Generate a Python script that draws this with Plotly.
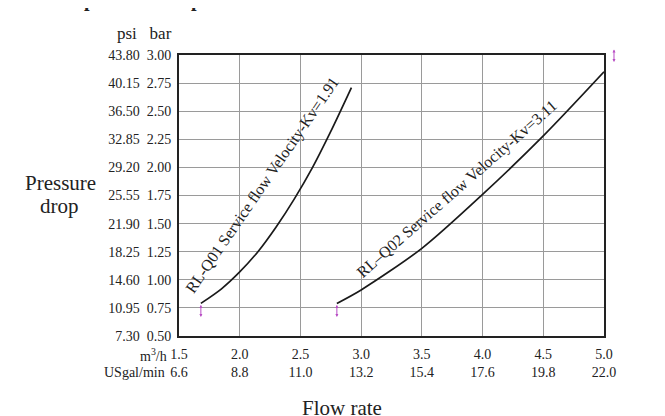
import plotly.graph_objects as go

# flow rate ticks (m3/h) and the matching US gal/min labels
flow_m3h = [1.5, 2.0, 2.5, 3.0, 3.5, 4.0, 4.5, 5.0]
flow_usgal = ["6.6", "8.8", "11.0", "13.2", "15.4", "17.6", "19.8", "22.0"]

# pressure ticks (bar) and the matching psi labels
press_bar = [0.50, 0.75, 1.00, 1.25, 1.50, 1.75, 2.00, 2.25, 2.50, 2.75, 3.00]
press_psi = ["7.30", "10.95", "14.60", "18.25", "21.90", "25.55",
             "29.20", "32.85", "36.50", "40.15", "43.80"]

# RL-Q01 curve
q01_flow = [1.68, 1.85, 2.00, 2.15, 2.30, 2.45, 2.60, 2.75, 2.92]
q01_bar = [0.79, 0.92, 1.07, 1.25, 1.47, 1.72, 2.00, 2.32, 2.71]

# RL-Q02 curve
q02_flow = [2.80, 3.00, 3.50, 4.00, 4.50, 5.00]
q02_bar = [0.79, 0.91, 1.28, 1.76, 2.28, 2.85]

SERIF = "Liberation Serif, Times New Roman, serif"
TXT = "#222222"
PINK = "#b84dc4"

fig = go.Figure()

for xs, ys in [(q01_flow, q01_bar), (q02_flow, q02_bar)]:
    fig.add_trace(go.Scatter(
        x=xs, y=ys, mode="lines",
        line=dict(color="#1a1a1a", width=1.7, shape="spline", smoothing=0.8),
        hoverinfo="skip", showlegend=False,
    ))

annotations = [
    # curve labels
    dict(x=2.19, y=1.84, text="RL-Q01 Service flow Velocity-Kv=1.91",
         textangle=-55.5, showarrow=False, font=dict(size=16, color=TXT)),
    dict(x=3.79, y=1.81, text="RL\u2013Q02 Service flow Velocity-Kv=3.11",
         textangle=-41.2, showarrow=False, font=dict(size=16, color=TXT)),
    # axis captions
    dict(xref="paper", yref="paper", x=0, y=1, xanchor="right", yanchor="bottom",
         xshift=-5, yshift=10, text="psi\u00a0\u00a0\u00a0bar", showarrow=False,
         font=dict(size=17, color=TXT)),
    dict(xref="paper", yref="paper", x=0, y=0, xanchor="right", yanchor="top",
         xshift=-10, yshift=-8, text="m<sup>3</sup>/h", showarrow=False,
         font=dict(size=14, color=TXT)),
    dict(xref="paper", yref="paper", x=0, y=0, xanchor="right", yanchor="top",
         xshift=-12, yshift=-27, text="USgal/min", showarrow=False,
         font=dict(size=14, color=TXT)),
    dict(xref="paper", yref="paper", x=-0.278, y=0.543, xanchor="center",
         text="Pressure", showarrow=False, font=dict(size=21, color=TXT)),
    dict(xref="paper", yref="paper", x=-0.281, y=0.464, xanchor="center",
         text="drop", showarrow=False, font=dict(size=21, color=TXT)),
    dict(xref="paper", yref="paper", x=0.383, y=0, xanchor="center",
         yanchor="top", yshift=-58, text="Flow rate", showarrow=False,
         font=dict(size=21, color=TXT)),
    # cropped heading at the very top
    dict(xref="paper", yref="paper", x=-0.343, y=1, xanchor="left",
         yanchor="bottom", yshift=42, text="<b>Flow-pressure drop curve</b>",
         showarrow=False, font=dict(size=20, color=TXT)),
]

# small pink range markers
for xs, ys in [(q01_flow, q01_bar), (q02_flow, q02_bar)]:
    annotations.append(dict(
        x=xs[0], y=ys[0] - 0.12, ax=xs[0], ay=ys[0], axref="x", ayref="y",
        text="", showarrow=True, arrowhead=2, arrowside="end+start",
        arrowsize=0.6, arrowwidth=1, arrowcolor=PINK))
annotations.append(dict(
    xref="paper", yref="paper", x=1.0235, y=0.975, ax=0, ay=-14,
    text="", showarrow=True, arrowhead=2,
    arrowside="end+start", arrowsize=0.6, arrowwidth=1, arrowcolor=PINK))

# the page adds an 8px body margin, so the figure is laid out 8px up/left
fig.update_layout(
    width=665, height=416,
    margin=dict(l=171, r=69, t=47, b=88),
    paper_bgcolor="white", plot_bgcolor="white",
    font=dict(family=SERIF, size=14, color=TXT),
    annotations=annotations,
    showlegend=False,
)

fig.update_xaxes(
    range=[1.5, 5.0], tickvals=flow_m3h,
    ticktext=[f"{q:.1f}<br>{g}" for q, g in zip(flow_m3h, flow_usgal)],
    showgrid=True, gridcolor="#9a9a9a", gridwidth=1.3,
    showline=True, linecolor="#222222", linewidth=2, mirror=True,
    ticks="", ticklabelstandoff=4, zeroline=False,
    tickfont=dict(size=14, color=TXT),
)
fig.update_yaxes(
    range=[0.5, 3.0], tickvals=press_bar,
    ticktext=[f"{p}\u00a0\u00a0{b:.2f}" for p, b in zip(press_psi, press_bar)],
    showgrid=True, gridcolor="#9a9a9a", gridwidth=1.3,
    showline=True, linecolor="#222222", linewidth=2, mirror=True,
    ticks="", ticklabelstandoff=3, zeroline=False,
    tickfont=dict(size=14, color=TXT),
)

fig.write_html("out.html")
